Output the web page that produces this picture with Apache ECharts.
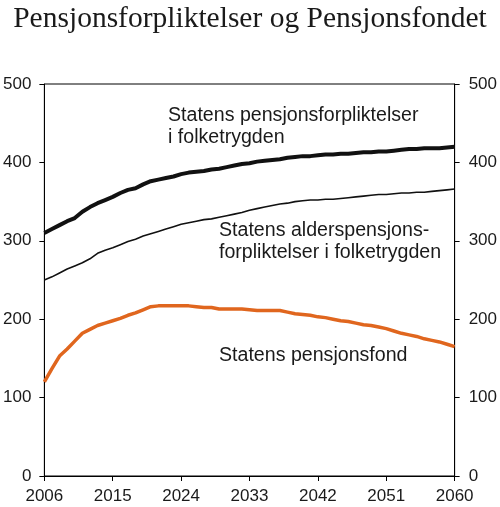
<!DOCTYPE html>
<html>
<head>
<meta charset="utf-8">
<script src="https://cdn.jsdelivr.net/npm/echarts@6/dist/echarts.min.js"></script>
<style>
html,body{margin:0;padding:0;background:#fff;}
#c{width:500px;height:507px;}
</style>
</head>
<body>
<div id="c"></div>
<script>
var years = [];
for (var y = 2006; y <= 2060; y++) years.push(String(y));

var forpliktelser = [310,315,320,325,329,337,343,348,352,356,361,365,367,372,376,378,380,382,385,387,388,389,391,392,394,396,398,399,401,402,403,404,406,407,408,408,409,410,410,411,411,412,413,413,414,414,415,416,417,417,418,418,418,419,420];

var alderspensjon = [250,254,259,264,268,272,277,284,288,291,295,299,302,306,309,312,315,318,321,323,325,327,328,330,332,334,336,339,341,343,345,347,348,350,351,352,352,353,353,354,355,356,357,358,359,359,360,361,361,362,362,363,364,365,366];

var pensjonsfond = [120,137,153,162,172,182,187,192,195,198,201,205,208,212,216,217,217,217,217,217,216,215,215,213,213,213,213,212,211,211,211,211,209,207,206,205,203,202,200,198,197,195,193,192,190,188,185,182,180,178,175,173,171,168,165];

var yTicks = [0,100,200,300,400,500];

var chart = echarts.init(document.getElementById('c'), null, {renderer:'canvas'});
var axisFont = {fontFamily:'Liberation Sans, Arial, sans-serif', fontSize:17, color:'#1a1a1a'};
var yAxisCommon = {
  type:'value', min:yTicks[0], max:yTicks[yTicks.length-1], interval:100,
  axisLine:{show:true, lineStyle:{color:'#000', width:1}},
  axisTick:{show:true, length:5, lineStyle:{color:'#000'}},
  splitLine:{show:false}
};
var annFont = '19.6px "Liberation Sans", Arial, sans-serif';
chart.setOption({
  animation:false,
  backgroundColor:'#fff',
  title:{
    text:'Pensjonsforpliktelser og Pensjonsfondet',
    left:'center', top:-1,
    textStyle:{fontFamily:'Liberation Serif, Times New Roman, serif', fontSize:29.5, fontWeight:'normal', color:'#1a1a1a'}
  },
  grid:{left:43, right:44, top:84, bottom:31, show:true, borderColor:'#000', borderWidth:1, backgroundColor:'transparent'},
  xAxis:{
    type:'category', data:years, boundaryGap:false,
    axisLine:{lineStyle:{color:'#000', width:1}},
    axisTick:{show:true, length:5, interval:8, alignWithLabel:true, lineStyle:{color:'#000'}},
    axisLabel:Object.assign({interval:8, margin:12}, axisFont),
    splitLine:{show:false}
  },
  yAxis:[
    Object.assign({position:'left', axisLabel:Object.assign({margin:13}, axisFont)}, yAxisCommon),
    Object.assign({position:'right', axisLabel:Object.assign({margin:14}, axisFont)}, yAxisCommon)
  ],
  series:[
    {type:'line', name:'Statens pensjonsforpliktelser i folketrygden', data:forpliktelser, showSymbol:false, lineStyle:{color:'#111', width:4}},
    {type:'line', name:'Statens alderspensjonsforpliktelser i folketrygden', data:alderspensjon, showSymbol:false, lineStyle:{color:'#111', width:1.6}},
    {type:'line', name:'Statens pensjonsfond', data:pensjonsfond, showSymbol:false, lineStyle:{color:'#e0661e', width:3.5}}
  ],
  graphic:[
    {type:'text', left:168, top:105, style:{text:'Statens pensjonsforpliktelser\ni folketrygden', font:annFont, fill:'#1a1a1a', lineHeight:22}},
    {type:'text', left:219, top:220, style:{text:'Statens alderspensjons-\nforpliktelser i folketrygden', font:annFont, fill:'#1a1a1a', lineHeight:22}},
    {type:'text', left:219, top:345, style:{text:'Statens pensjonsfond', font:annFont, fill:'#1a1a1a', lineHeight:22}}
  ]
});
</script>
</body>
</html>
